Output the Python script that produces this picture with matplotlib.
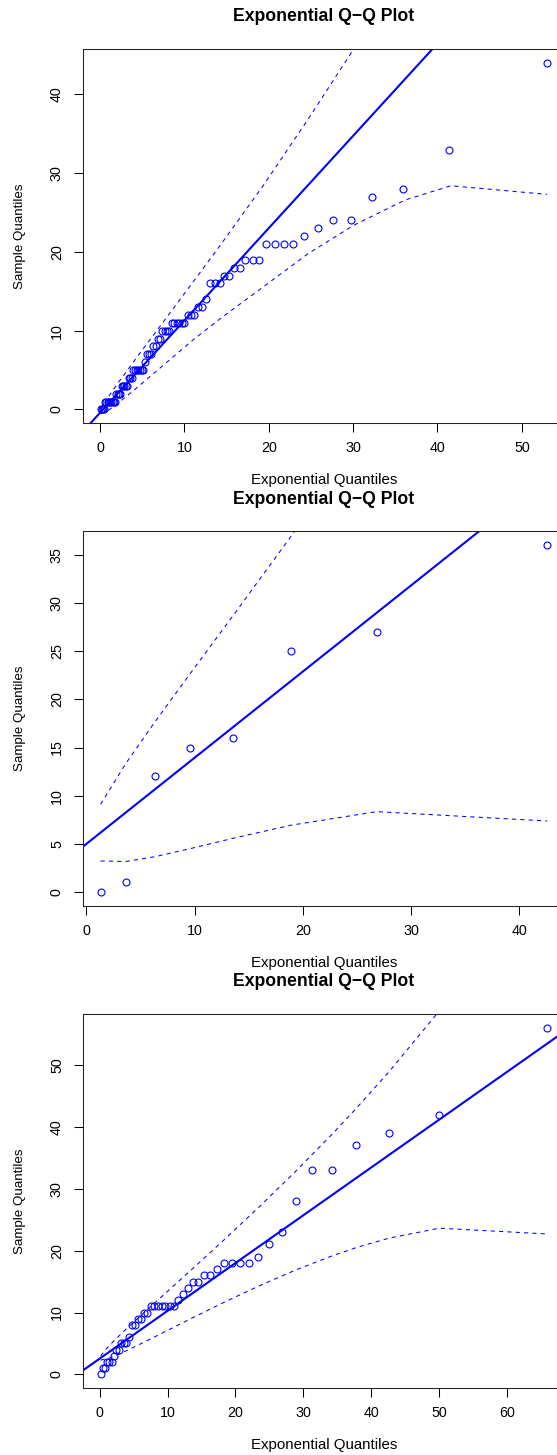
import matplotlib
matplotlib.use('Agg')
import matplotlib.pyplot as plt

# panel 1: sample values and their exponential quantiles
p1_x = [0.07, 0.2, 0.33, 0.47,
         0.6, 0.75, 0.9, 1.05, 1.2, 1.35, 1.5, 1.65, 1.8,
         1.95, 2.1, 2.25, 2.4,
         2.6, 2.75, 2.9, 3.1, 3.25,
         3.45, 3.6, 3.8,
         3.95, 4.15, 4.35, 4.55, 4.75, 4.95, 5.15,
         5.35,
         5.6, 5.8, 6.05,
         6.3, 6.6,
         6.9, 7.15,
         7.4, 7.65, 7.95, 8.2,
         8.5, 8.8, 9.1, 9.4, 9.7, 10.0,
         10.4, 10.8, 11.2,
         11.6, 12.1,
         12.6,
         13.0, 13.6, 14.2,
         14.7, 15.3,
         15.9, 16.6,
         17.2, 18.1, 18.9,
         19.7, 20.7, 21.8, 22.9,
         24.2, 25.8, 27.6, 29.7, 32.3, 35.9, 41.4, 53.0]
p1_y = [0, 0, 0, 0,
        1, 1, 1, 1, 1, 1, 1, 1, 1,
        2, 2, 2, 2,
        3, 3, 3, 3, 3,
        4, 4, 4,
        5, 5, 5, 5, 5, 5, 5,
        6,
        7, 7, 7,
        8, 8,
        9, 9,
        10, 10, 10, 10,
        11, 11, 11, 11, 11, 11,
        12, 12, 12,
        13, 13,
        14,
        16, 16, 16,
        17, 17,
        18, 18,
        19, 19, 19,
        21, 21, 21, 21,
        22, 23, 24, 24, 27, 28, 33, 44]
p1_line = (-0.43, 1.172)
p1_env_x = [0.07, 1.03, 2.09, 4.01, 7.11, 11.16, 14.23, 19.4, 24.7, 30.1, 36.2, 41.6, 53.0]
p1_env_up = [-0.14, 1.64, 3.28, 6.1, 10.55, 16.36, 20.8, 28.5, 36.9, 45.8, 56.9, 67.7, 95.5]
p1_env_lo = [-0.56, -0.09, 0.76, 2.43, 5.25, 8.94, 11.5, 15.6, 19.8, 23.4, 26.6, 28.4, 27.3]
p1_xticks = [0, 10, 20, 30, 40, 50]
p1_yticks = [0, 10, 20, 30, 40]

# panel 2
p2_x = [1.30, 3.62, 6.32, 9.55, 13.57, 18.89, 26.81, 42.56]
p2_y = [0, 1, 12, 15, 16, 25, 27, 36]
p2_line = (5.0, 0.895)
p2_env_x = [1.30, 3.62, 6.32, 9.55, 13.57, 18.89, 26.81, 42.56]
p2_env_up = [9.10, 13.32, 17.66, 22.63, 28.74, 36.93, 49.7, 78.9]
p2_env_lo = [3.22, 3.16, 3.66, 4.49, 5.58, 6.93, 8.34, 7.37]
p2_xticks = [0, 10, 20, 30, 40]
p2_yticks = [0, 5, 10, 15, 20, 25, 30, 35]

# panel 3
p3_x = [0.15, 0.46, 0.77, 1.09, 1.42, 1.76, 2.10, 2.45, 2.81, 3.18,
        3.56, 3.95, 4.35, 4.77, 5.19, 5.63, 6.08, 6.54, 7.03, 7.52,
        8.04, 8.57, 9.12, 9.70, 10.31, 10.93, 11.59, 12.28, 12.99, 13.76,
        14.56, 15.41, 16.31, 17.27, 18.31, 19.42, 20.62, 21.93, 23.38, 24.98,
        26.79, 28.85, 31.26, 34.16, 37.78, 42.64, 50.01, 65.86]
p3_y = [0, 1, 1, 2, 2, 2, 3, 4, 4, 5,
        5, 5, 6, 8, 8, 9, 9, 10, 10, 11,
        11, 11, 11, 11, 11, 11, 12, 13, 14, 15,
        15, 16, 16, 17, 18, 18, 18, 18, 19, 21,
        23, 28, 33, 33, 37, 39, 42, 56]
p3_line = (2.54, 0.773)
p3_env_x = [0.15, 1.09, 2.45, 4.35, 6.54, 9.70, 13.76, 18.31, 23.38, 28.85, 34.16, 37.78, 42.64, 50.01, 65.86]
p3_env_up = [2.98, 4.27, 5.79, 7.78, 9.99, 13.13, 17.16, 21.73, 26.96, 32.81, 38.75, 43.0, 48.96, 58.77, 84.2]
p3_env_lo = [2.33, 2.50, 3.08, 4.03, 5.21, 6.95, 9.19, 11.65, 14.26, 16.87, 19.13, 20.5, 22.04, 23.63, 22.70]
p3_xticks = [0, 10, 20, 30, 40, 50, 60]
p3_yticks = [0, 10, 20, 30, 40, 50]

title = 'Exponential Q\u2212Q Plot'
xlab = 'Exponential Quantiles'
ylab = 'Sample Quantiles'

plt.rcParams['font.family'] = ['Liberation Sans', 'DejaVu Sans']

W, H = 557, 1455
fig = plt.figure(figsize=(W / 100, H / 100), dpi=100)

panels = [
    (49, p1_x, p1_y, p1_line, p1_env_x, p1_env_up, p1_env_lo, p1_xticks, p1_yticks),
    (531.5, p2_x, p2_y, p2_line, p2_env_x, p2_env_up, p2_env_lo, p2_xticks, p2_yticks),
    (1014, p3_x, p3_y, p3_line, p3_env_x, p3_env_up, p3_env_lo, p3_xticks, p3_yticks),
]

left_px, width_px, height_px = 82.7, 482.3, 374.3

for top, x, y, line, ex, eu, el, xt, yt in panels:
    ax = fig.add_axes([left_px / W, 1 - (top + height_px) / H, width_px / W, height_px / H])

    # R style 4% padding around the points
    xr = max(x) - min(x)
    yr = max(y) - min(y)
    ax.set_xlim(min(x) - 0.04 * xr, max(x) + 0.04 * xr)
    ax.set_ylim(min(y) - 0.04 * yr, max(y) + 0.04 * yr)

    ax.plot(ex, eu, color='blue', lw=0.75, linestyle=(0, (4, 4)))
    ax.plot(ex, el, color='blue', lw=0.75, linestyle=(0, (4, 4)))
    ax.axline((0, line[0]), slope=line[1], color='blue', lw=1.5)
    ax.plot(x, y, 'o', markersize=5, markerfacecolor='none',
            markeredgecolor='blue', markeredgewidth=0.8)

    ax.set_xticks(xt)
    ax.set_yticks(yt)
    ax.tick_params(direction='out', length=6.5, width=0.75, labelsize=10.3, colors='black')
    ax.tick_params(axis='x', pad=6.5)
    ax.tick_params(axis='y', pad=7)
    for lab in ax.get_yticklabels():
        lab.set_rotation(90)
        lab.set_va('center')
    for s in ax.spines.values():
        s.set_linewidth(0.75)
        s.set_color('#222222')

    ax.text(0.5, 1 + 32.3 / height_px, title, transform=ax.transAxes, ha='center', va='center',
            fontsize=12.7, fontweight='bold')
    ax.text(0.5, -56.7 / height_px, xlab, transform=ax.transAxes, ha='center', va='center',
            fontsize=10.8)
    ax.text((19.5 - left_px) / width_px, 0.5, ylab, transform=ax.transAxes, ha='center', va='center',
            rotation=90, fontsize=9.6)

fig.savefig('out.png', dpi=100)
